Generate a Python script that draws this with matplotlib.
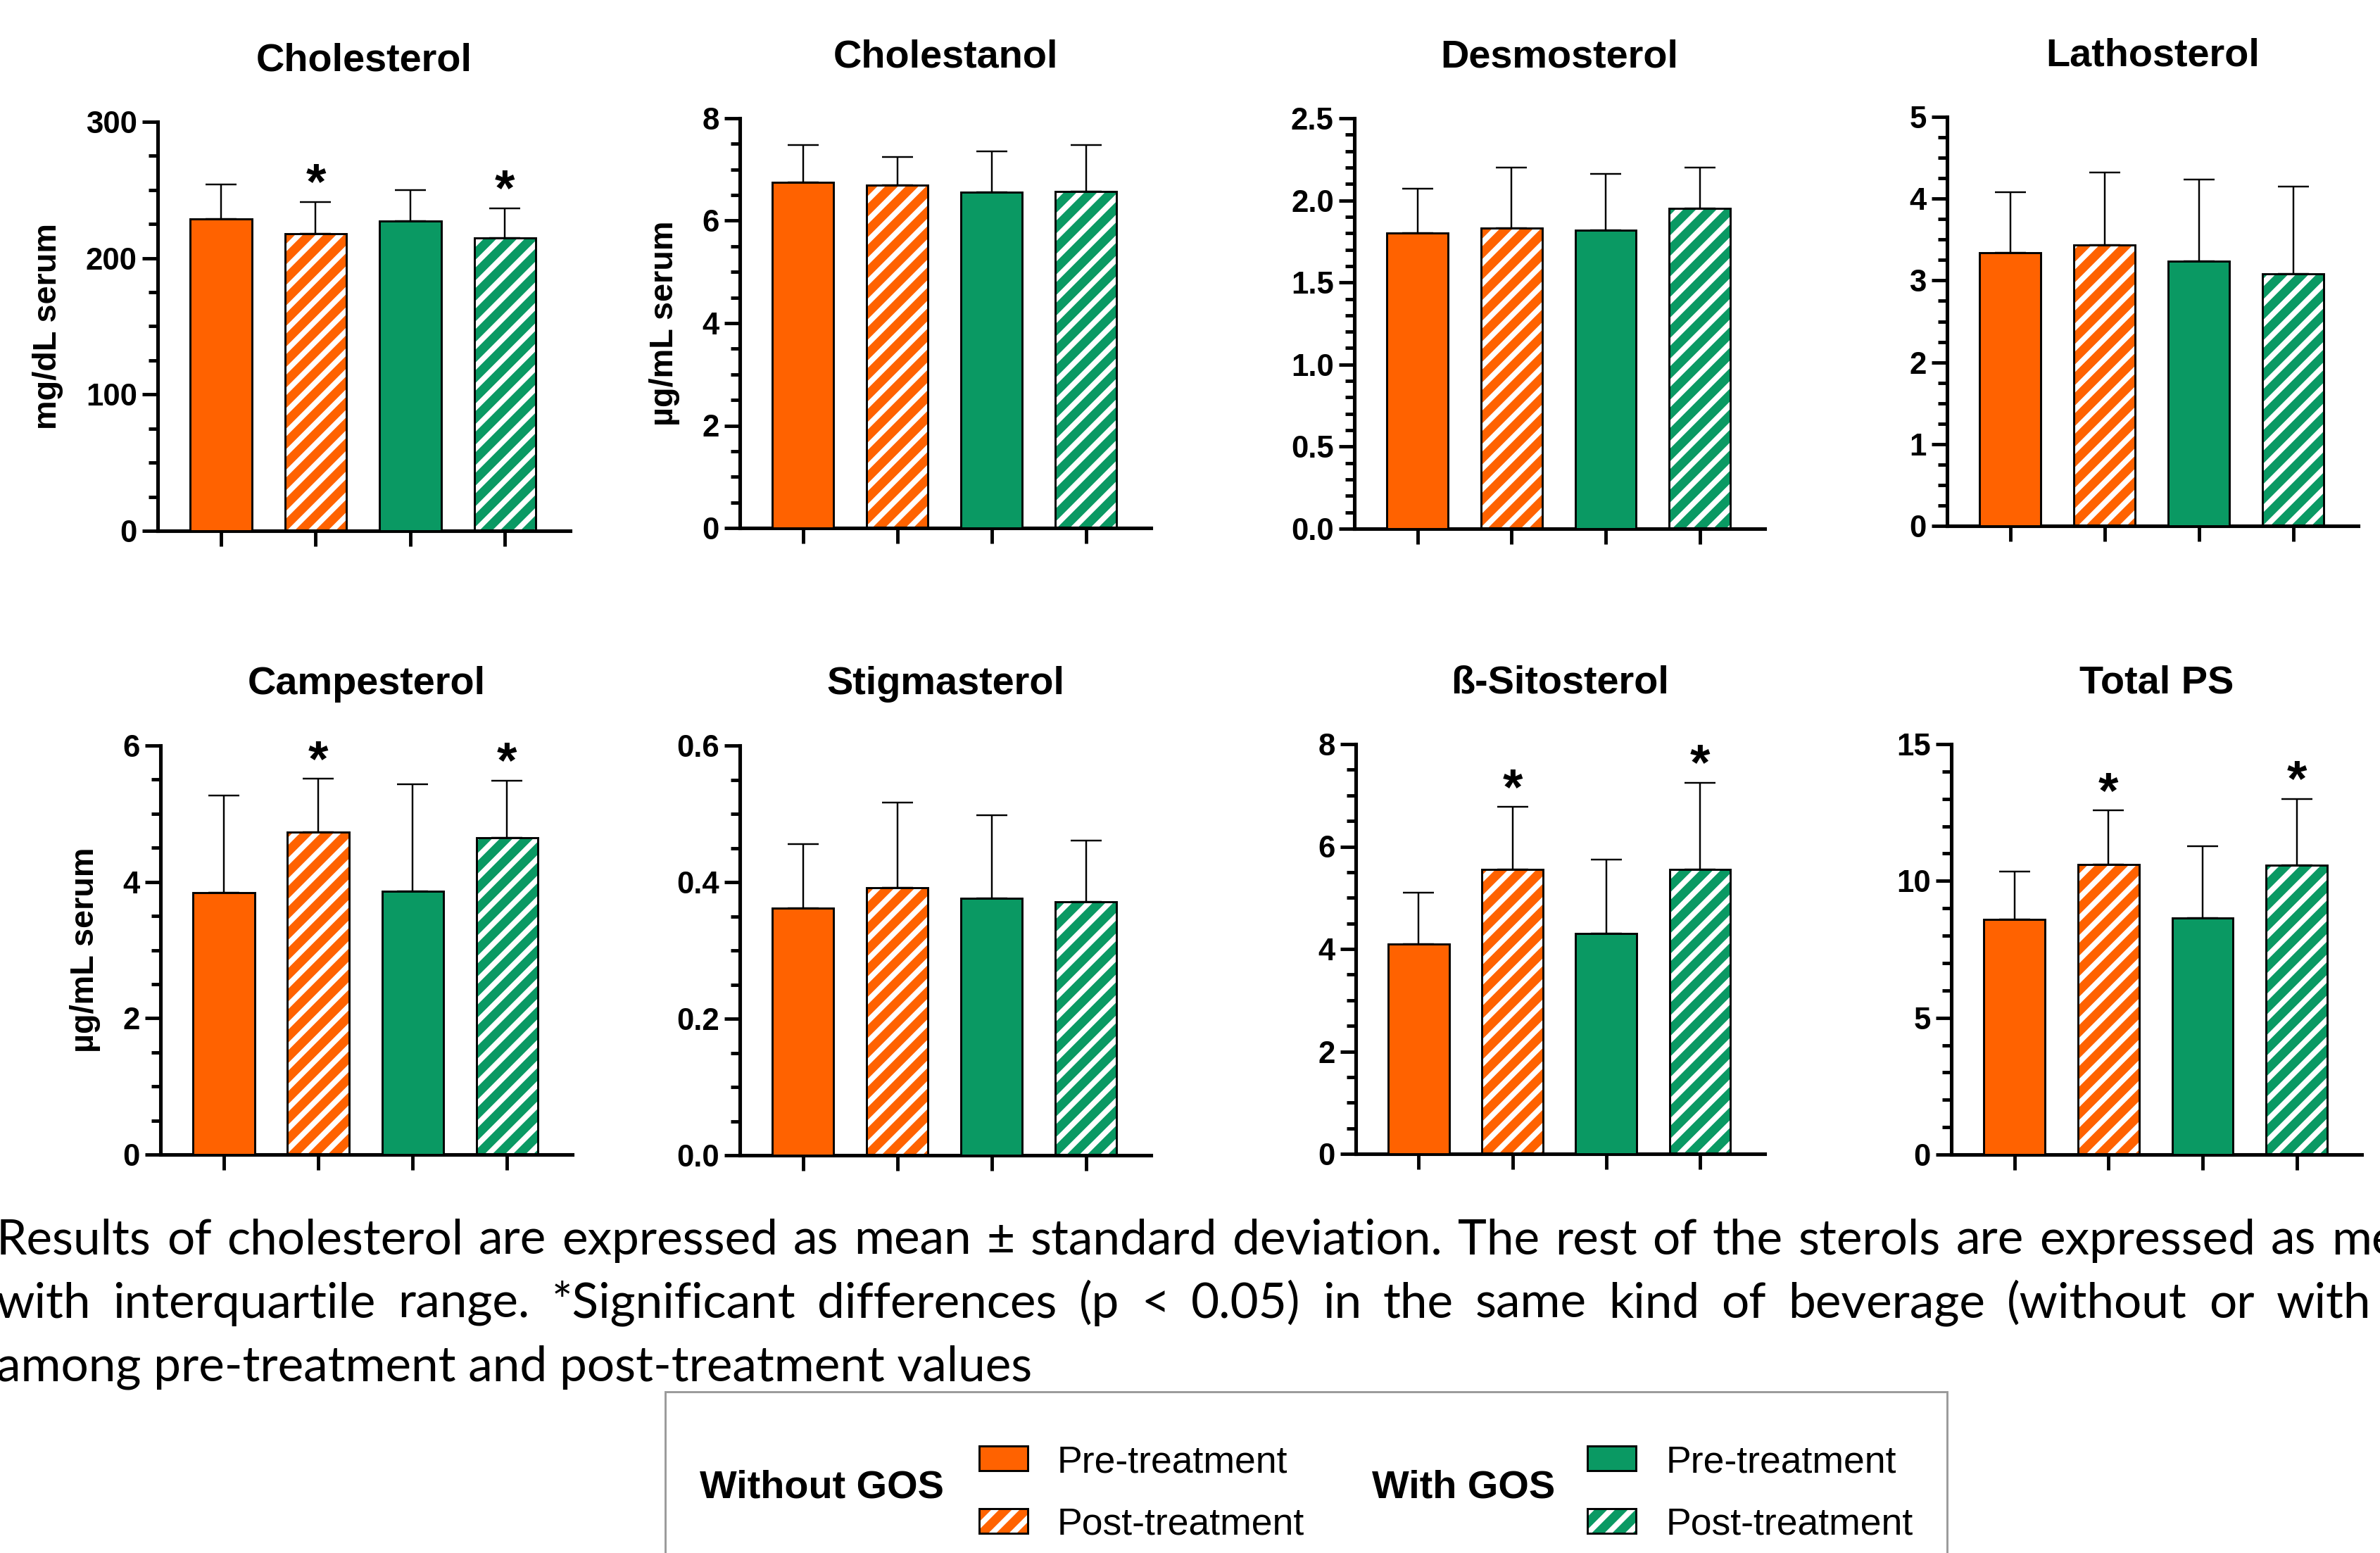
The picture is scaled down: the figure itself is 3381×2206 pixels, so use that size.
import matplotlib
matplotlib.use('Agg')
import matplotlib.pyplot as plt
import matplotlib.ticker as mticker
from matplotlib.patches import Rectangle
import numpy as np

W, H, DPI = 3381, 2206, 175

plt.rcParams['font.family'] = 'Liberation Sans'
plt.rcParams['hatch.linewidth'] = 3.2

ORANGE = '#FF6200'
GREEN = '#0A9963'

# data
panels = ['Cholesterol', 'Cholestanol', 'Desmosterol', 'Lathosterol',
          'Campesterol', 'Stigmasterol', 'ß-Sitosterol', 'Total PS']
ylabels = ['mg/dL serum', 'µg/mL serum', '', '',
           'µg/mL serum', '', '', '']
# order: without GOS pre, without GOS post, with GOS pre, with GOS post
cholesterol = [229, 218, 227, 215]
cholestanol = [6.75, 6.70, 6.56, 6.57]
desmosterol = [1.80, 1.83, 1.82, 1.95]
lathosterol = [3.34, 3.43, 3.24, 3.08]
campesterol = [3.84, 4.73, 3.86, 4.65]
stigmasterol = [0.362, 0.392, 0.376, 0.371]
sitosterol = [4.09, 5.55, 4.30, 5.55]
total_ps = [8.60, 10.61, 8.65, 10.57]

# top of the error bars
cholesterol_up = [254, 241, 250, 236.5]
cholestanol_up = [7.48, 7.24, 7.35, 7.48]
desmosterol_up = [2.07, 2.20, 2.16, 2.20]
lathosterol_up = [4.08, 4.32, 4.23, 4.15]
campesterol_up = [5.27, 5.51, 5.43, 5.48]
stigmasterol_up = [0.456, 0.516, 0.498, 0.461]
sitosterol_up = [5.10, 6.77, 5.75, 7.24]
total_ps_up = [10.35, 12.57, 11.26, 12.99]

# significant differences (*)
cholesterol_sig = [0, 1, 0, 1]
campesterol_sig = [0, 1, 0, 1]
sitosterol_sig = [0, 1, 0, 1]
total_ps_sig = [0, 1, 0, 1]
no_sig = [0, 0, 0, 0]

means = [cholesterol, cholestanol, desmosterol, lathosterol,
         campesterol, stigmasterol, sitosterol, total_ps]
uppers = [cholesterol_up, cholestanol_up, desmosterol_up, lathosterol_up,
          campesterol_up, stigmasterol_up, sitosterol_up, total_ps_up]
sigs = [cholesterol_sig, no_sig, no_sig, no_sig,
        campesterol_sig, no_sig, sitosterol_sig, total_ps_sig]

y_max = [300, 8, 2.5, 5, 6, 0.6, 8, 15]
y_major = [100, 2, 0.5, 1, 2, 0.2, 2, 5]
y_minor = [25, 0.5, 0.1, 0.25, 0.5, 0.05, 0.5, 1]
y_fmt = ['%g', '%g', '%.1f', '%g', '%g', '%.1f', '%g', '%g']

caption_lines = [
    'Results of cholesterol are expressed as mean ± standard deviation. '
    'The rest of the sterols are expressed as median',
    'with interquartile range. *Significant differences (p < 0.05) in the same '
    'kind of beverage (without or with GOS)',
    'among pre-treatment and post-treatment values',
]

# layout, pixel boxes (left, top, right, bottom)
boxes = [(224, 173, 810, 754), (1051, 168, 1635, 750),
         (1924, 168, 2507, 751), (2766, 166, 3350, 747),
         (228, 1059, 813, 1640), (1051, 1059, 1635, 1641),
         (1926, 1057, 2507, 1639), (2772, 1057, 3355, 1640)]


def fx(x):
    return x / W


def fy(y):
    return 1 - y / H


fig = plt.figure(figsize=(W / DPI, H / DPI), dpi=DPI)
x = np.arange(4)
colors = [ORANGE, ORANGE, GREEN, GREEN]

for k in range(8):
    l, t, r, b = boxes[k]
    ax = fig.add_axes([fx(l), fy(b), (r - l) / W, (b - t) / H])
    m = np.array(means[k])
    up = np.array(uppers[k])
    for i in range(4):
        if i % 2 == 1:
            ax.bar(x[i], m[i], width=0.65, color=colors[i], edgecolor='white',
                   hatch='//', linewidth=0, zorder=2)
            ax.bar(x[i], m[i], width=0.65, fill=False, edgecolor='black',
                   linewidth=1.2, zorder=3)
        else:
            ax.bar(x[i], m[i], width=0.65, color=colors[i], edgecolor='black',
                   linewidth=1.2, zorder=3)
    ax.errorbar(x, m, yerr=[np.zeros(4), up - m], fmt='none', ecolor='black',
                elinewidth=1.0, capsize=9, capthick=1.0, zorder=1)
    for i in range(4):
        if sigs[k][i]:
            ax.annotate('*', xy=(x[i], up[i]), xytext=(0, 2),
                        textcoords='offset points', ha='center', va='baseline',
                        fontsize=30, fontweight='bold')

    ax.set_xlim(-0.67, 3.69)
    ax.set_ylim(0, y_max[k])
    ticks = np.arange(0, y_max[k] + y_major[k] / 2, y_major[k])
    ax.set_yticks(ticks, labels=[y_fmt[k] % v for v in ticks],
                  fontsize=18, fontweight='bold')
    ax.yaxis.set_minor_locator(mticker.MultipleLocator(y_minor[k]))
    ax.set_xticks(x, labels=['', '', '', ''])
    ax.tick_params(axis='both', which='major', length=9, width=2, pad=3)
    ax.tick_params(axis='y', which='minor', length=5.4, width=2)
    for side in ['top', 'right']:
        ax.spines[side].set_visible(False)
    for side in ['left', 'bottom']:
        ax.spines[side].set_linewidth(2.1)
    ax.set_title(panels[k], fontsize=23, fontweight='bold', pad=30)
    if ylabels[k]:
        ax.set_ylabel(ylabels[k], fontsize=19.3, fontweight='bold', labelpad=13)

# caption text (justified like the source)
CAP_FONT = 'Lato'
renderer = fig.canvas.get_renderer()


def text_w(s, size):
    tx = fig.text(0, 0, s, fontsize=size, family=CAP_FONT)
    w = tx.get_window_extent(renderer=renderer).width
    tx.remove()
    return w


cap_size = 20 * 1470 / text_w(caption_lines[2], 20)


def justified(words, n_fit, x0, x1, y):
    widths = [text_w(w, cap_size) for w in words]
    gap = (x1 - x0 - sum(widths[:n_fit])) / (n_fit - 1)
    xx = x0
    for w, wd in zip(words, widths):
        fig.text(fx(xx), fy(y), w, fontsize=cap_size, family=CAP_FONT,
                 va='baseline')
        xx += wd + gap


w1 = caption_lines[0].split()
justified(w1, len(w1) - 1, -5, 3290, 1782)
w2 = caption_lines[1].split()
justified(w2, len(w2) - 1, -5, 3368, 1872)
fig.text(fx(-5), fy(1961), caption_lines[2], fontsize=cap_size,
         family=CAP_FONT, va='baseline')

# legend box
fig.add_artist(Rectangle((fx(945), fy(2240)), (2766 - 945) / W, (2240 - 1977) / H,
                         transform=fig.transFigure, fill=False,
                         edgecolor='#9A9A9A', linewidth=1.2))
groups = ['Without GOS', 'With GOS']
entries = ['Pre-treatment', 'Post-treatment']
group_x = [994, 1949]
swatch_x = [1391, 2255]
label_x = [1502, 2367]
for g in range(2):
    fig.text(fx(group_x[g]), fy(2128), groups[g], fontsize=23,
             fontweight='bold', va='baseline')
    col = ORANGE if g == 0 else GREEN
    for e, (top, base) in enumerate([(2054, 2091), (2143, 2180)]):
        rect = (fx(swatch_x[g]), fy(top + 35))
        if e == 1:
            fig.add_artist(Rectangle(rect, 69 / W, 35 / H, transform=fig.transFigure,
                                     facecolor=col, edgecolor='white', hatch='//',
                                     linewidth=0))
            fig.add_artist(Rectangle(rect, 69 / W, 35 / H, transform=fig.transFigure,
                                     fill=False, edgecolor='black', linewidth=1.2))
        else:
            fig.add_artist(Rectangle(rect, 69 / W, 35 / H, transform=fig.transFigure,
                                     facecolor=col, edgecolor='black', linewidth=1.2))
        fig.text(fx(label_x[g]), fy(base), entries[e], fontsize=22,
                 va='baseline')

fig.savefig('out.png', dpi=DPI, facecolor='white')
